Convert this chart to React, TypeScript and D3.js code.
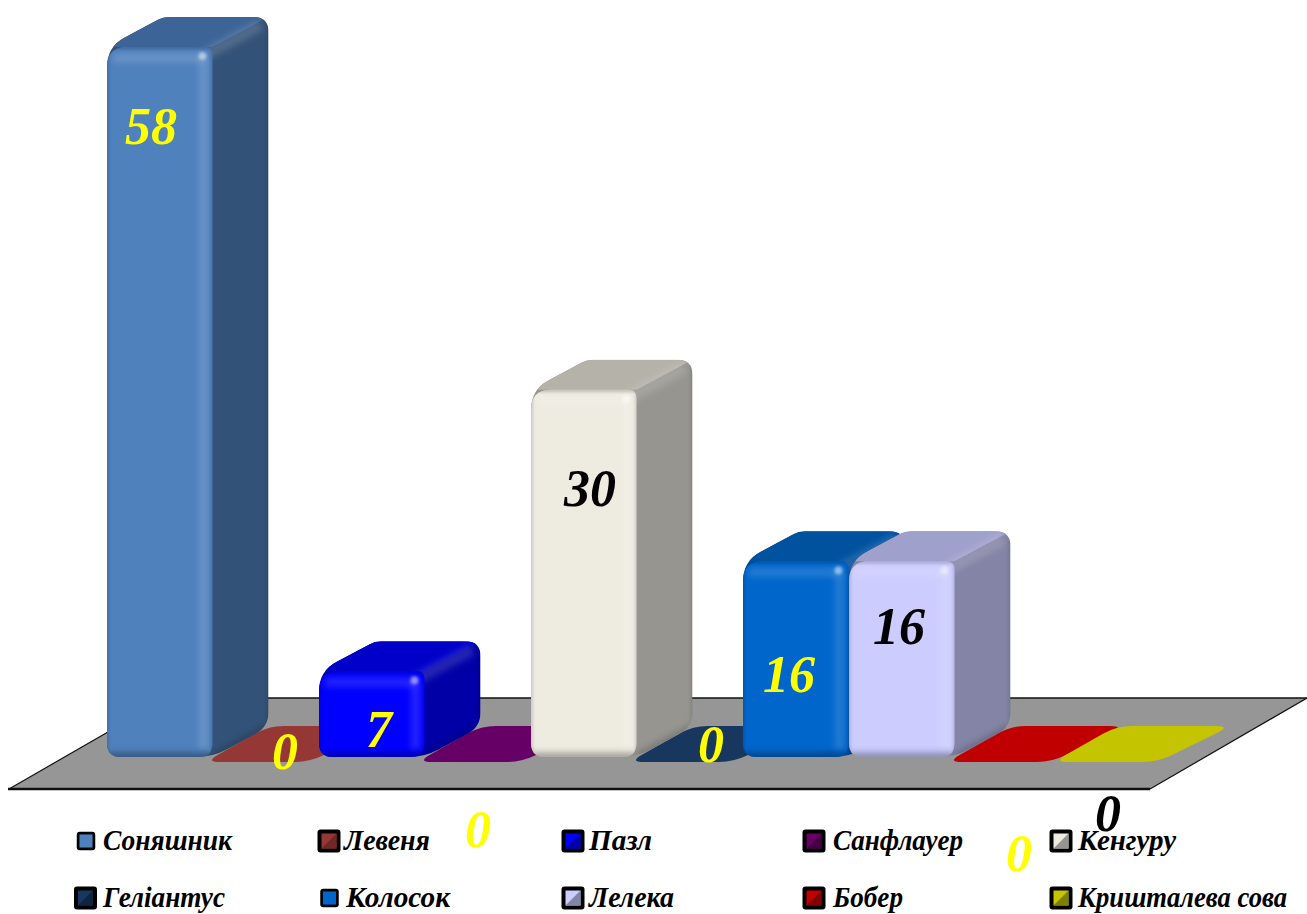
import React from 'react';
import * as d3 from 'd3';

const categories = ['Соняшник','Левеня','Пазл','Санфлауер','Кенгуру','Геліантус','Колосок','Лелека','Бобер','Кришталева сова'];
const values = [58,0,7,0,30,0,16,16,0,0];
const frontColors = ['#4f81bd','#953735','#0000ff','#660066','#eeece1','#17375e','#0066cc','#ccccff','#c00000','#c4c400'];
const sideColors = ['#335277','#6f2826','#0000a6','#440044','#969590','#0f2440','#004b99','#8484a6','#800000','#808000'];
const topColors = ['#3c6496','#7a2e2c','#0000c8','#550055','#b4b2a9','#122c4c','#00529f','#a0a0cc','#a00000','#a0a000'];
const labelX = [151,285,379,478,590,711,789,899,1108,1019];
const labelY = [126,751,729,829,488,744,674,626,813,853];
const labelFill = ['#ffff00','#ffff00','#ffff00','#ffff00','#000000','#ffff00','#ffff00','#000000','#000000','#ffff00'];
const legendX = [86,329,573,814,1061,85.5,329.5,573,814,1061];
const legendTextX = [103,344,589,833,1078,103,346,589,833,1078];
const legendTextW = [129,86,63,130,98,122,104,85,70,209];

const FONT = '"Liberation Serif", serif';
const DX = 56, DY = -30, BOTTOM = 757;

function rounded(pts: number[][], r: number | number[]) {
  const n = pts.length;
  let d = '';
  pts.forEach((p, i) => {
    const a = pts[(i - 1 + n) % n], b = pts[(i + 1) % n];
    const rr = Array.isArray(r) ? r[i] : r;
    const la = Math.hypot(a[0]-p[0], a[1]-p[1]), lb = Math.hypot(b[0]-p[0], b[1]-p[1]);
    const ra = Math.min(rr, la / 2), rb = Math.min(rr, lb / 2);
    const s = [p[0] + (a[0]-p[0]) * ra / la, p[1] + (a[1]-p[1]) * ra / la];
    const e = [p[0] + (b[0]-p[0]) * rb / lb, p[1] + (b[1]-p[1]) * rb / lb];
    d += `${i ? 'L' : 'M'}${s[0]},${s[1]}Q${p[0]},${p[1]} ${e[0]},${e[1]}`;
  });
  return d + 'Z';
}

const x = d3.scaleBand<string>().domain(categories).range([107, 1167]).padding(0);
const y = d3.scaleLinear().domain([0, 58]).range([BOTTOM, 47]);

function Bar({ i }: { i: number }) {
  const c = categories[i];
  const x0 = x(c)!, w = x.bandwidth() - 0.5, x1 = x0 + w, t = y(values[i]), b = y(0);
  const sil = rounded([[x0,t],[x0+DX,t+DY],[x1+DX,t+DY],[x1+DX,b+DY],[x1,b],[x0,b]], [20,6,15,15,16,14]);
  const front = rounded([[x0,t],[x1,t],[x1,b],[x0,b]], [20,8,14,14]);
  return (
    <g>
      <clipPath id={`sil${i}`}><path d={sil} /></clipPath>
      <clipPath id={`fr${i}`}><path d={front} /></clipPath>
      <g clipPath={`url(#sil${i})`}>
        <rect x={x0} y={t+DY} width={w+DX} height={b-t-DY} fill={sideColors[i]} />
        <polygon points={`${x0},${t} ${x0+DX},${t+DY} ${x1+DX},${t+DY} ${x1},${t}`} fill={topColors[i]} />
        <line x1={x1-8} y1={t+8} x2={x1+DX-8} y2={t+DY+8} stroke="#fff" strokeOpacity={0.14} strokeWidth={12} filter="url(#b3)" />
        <line x1={x1+DX} y1={t+DY} x2={x1+DX} y2={b+DY} stroke="#000" strokeOpacity={0.1} strokeWidth={5} filter="url(#b2)" />
        <line x1={x1} y1={b} x2={x1+DX} y2={b+DY} stroke="#000" strokeOpacity={0.2} strokeWidth={7} filter="url(#b3)" />
      </g>
      <path d={front} fill={frontColors[i]} />
      <g clipPath={`url(#fr${i})`}>
        <line x1={x0} y1={t} x2={x1} y2={t} stroke={topColors[i]} strokeOpacity={0.75} strokeWidth={5} filter="url(#b2)" />
        <line x1={x0} y1={b} x2={x1} y2={b} stroke="#000" strokeOpacity={0.32} strokeWidth={9} filter="url(#b3)" />
        <line x1={x1-9} y1={t+10} x2={x1-9} y2={b-8} stroke="#fff" strokeOpacity={0.14} strokeWidth={9} filter="url(#b3)" />
        <line x1={x1} y1={t} x2={x1} y2={b} stroke="#000" strokeOpacity={0.14} strokeWidth={3} filter="url(#b2)" />
        <line x1={x0} y1={t} x2={x0} y2={b} stroke="#000" strokeOpacity={0.14} strokeWidth={4} filter="url(#b2)" />
        <line x1={x0+6} y1={t+11} x2={x1-8} y2={t+11} stroke="#fff" strokeOpacity={0.14} strokeWidth={9} filter="url(#b3)" />
        <circle cx={x1-10} cy={t+9} r={4} fill="#fff" fillOpacity={0.5} filter="url(#b2)" />
      </g>
    </g>
  );
}

function Flat({ i }: { i: number }) {
  const c = categories[i];
  const x0 = x(c)!, w = x.bandwidth() - 1;
  const d = rounded([[x0-8,762],[x0+w-8,762],[x0+w+65,726],[x0+56,726]], 15);
  return <path d={d} fill={frontColors[i]} />;
}

function Swatch({ i }: { i: number }) {
  const plain = i === 0 || i === 6;
  const s = plain ? 18.5 : 23;
  const cx = legendX[i], cy = i < 5 ? 841 : 898;
  const o = plain ? 2.7 : 4;
  const a = cx - s/2 + o, z = cx + s/2 - o;
  const p = cy - s/2 + o, q = cy + s/2 - o;
  return (
    <g>
      <rect x={cx-s/2} y={cy-s/2} width={s} height={s} rx={3} fill="#000" />
      <rect x={a} y={p} width={z-a} height={q-p} fill={frontColors[i]} />
      {!plain && <polygon points={`${a},${q} ${z},${q} ${z},${p}`} fill={sideColors[i]} />}
    </g>
  );
}

export default function App() {
  const drawOrder = d3.range(categories.length);
  return (
    <svg width={1307} height={914} style={{ position: 'absolute', left: 0, top: 0 }}>
      <defs>
        <filter id="b2" filterUnits="userSpaceOnUse" x={0} y={0} width={1307} height={914}><feGaussianBlur stdDeviation={1.5} /></filter>
        <filter id="b3" filterUnits="userSpaceOnUse" x={0} y={0} width={1307} height={914}><feGaussianBlur stdDeviation={3} /></filter>
      </defs>
      <polygon points="9,789 1150,789 1307,698 167,698" fill="#969696" />
      <line x1={8} y1={789} x2={1150} y2={789} stroke="#111" strokeWidth={2.5} />
      <line x1={167} y1={698} x2={1307} y2={698} stroke="#111" strokeWidth={1.5} />
      <line x1={9} y1={789} x2={167} y2={698} stroke="#111" strokeWidth={1.2} />
      <line x1={1150} y1={789} x2={1307} y2={698} stroke="#111" strokeWidth={1.2} />
      {drawOrder.filter(i => values[i] === 0).map(i => <Flat key={i} i={i} />)}
      {drawOrder.filter(i => values[i] > 0).map(i => <Bar key={i} i={i} />)}
      {categories.map((c, i) => (
        <g key={c}>
          <Swatch i={i} />
          <text x={legendTextX[i]} y={(i < 5 ? 841 : 898) + 9} textLength={legendTextW[i]} lengthAdjust="spacingAndGlyphs"
            fontFamily={FONT} fontStyle="italic" fontWeight={700} fontSize={29} fill="#000">{c}</text>
        </g>
      ))}
      {values.map((v, i) => (
        <text key={i} x={labelX[i]} y={labelY[i]} dy="0.35em" textAnchor="middle" fontFamily={FONT}
          fontStyle="italic" fontWeight={700} fontSize={52} fill={labelFill[i]}>{v}</text>
      ))}
    </svg>
  );
}
